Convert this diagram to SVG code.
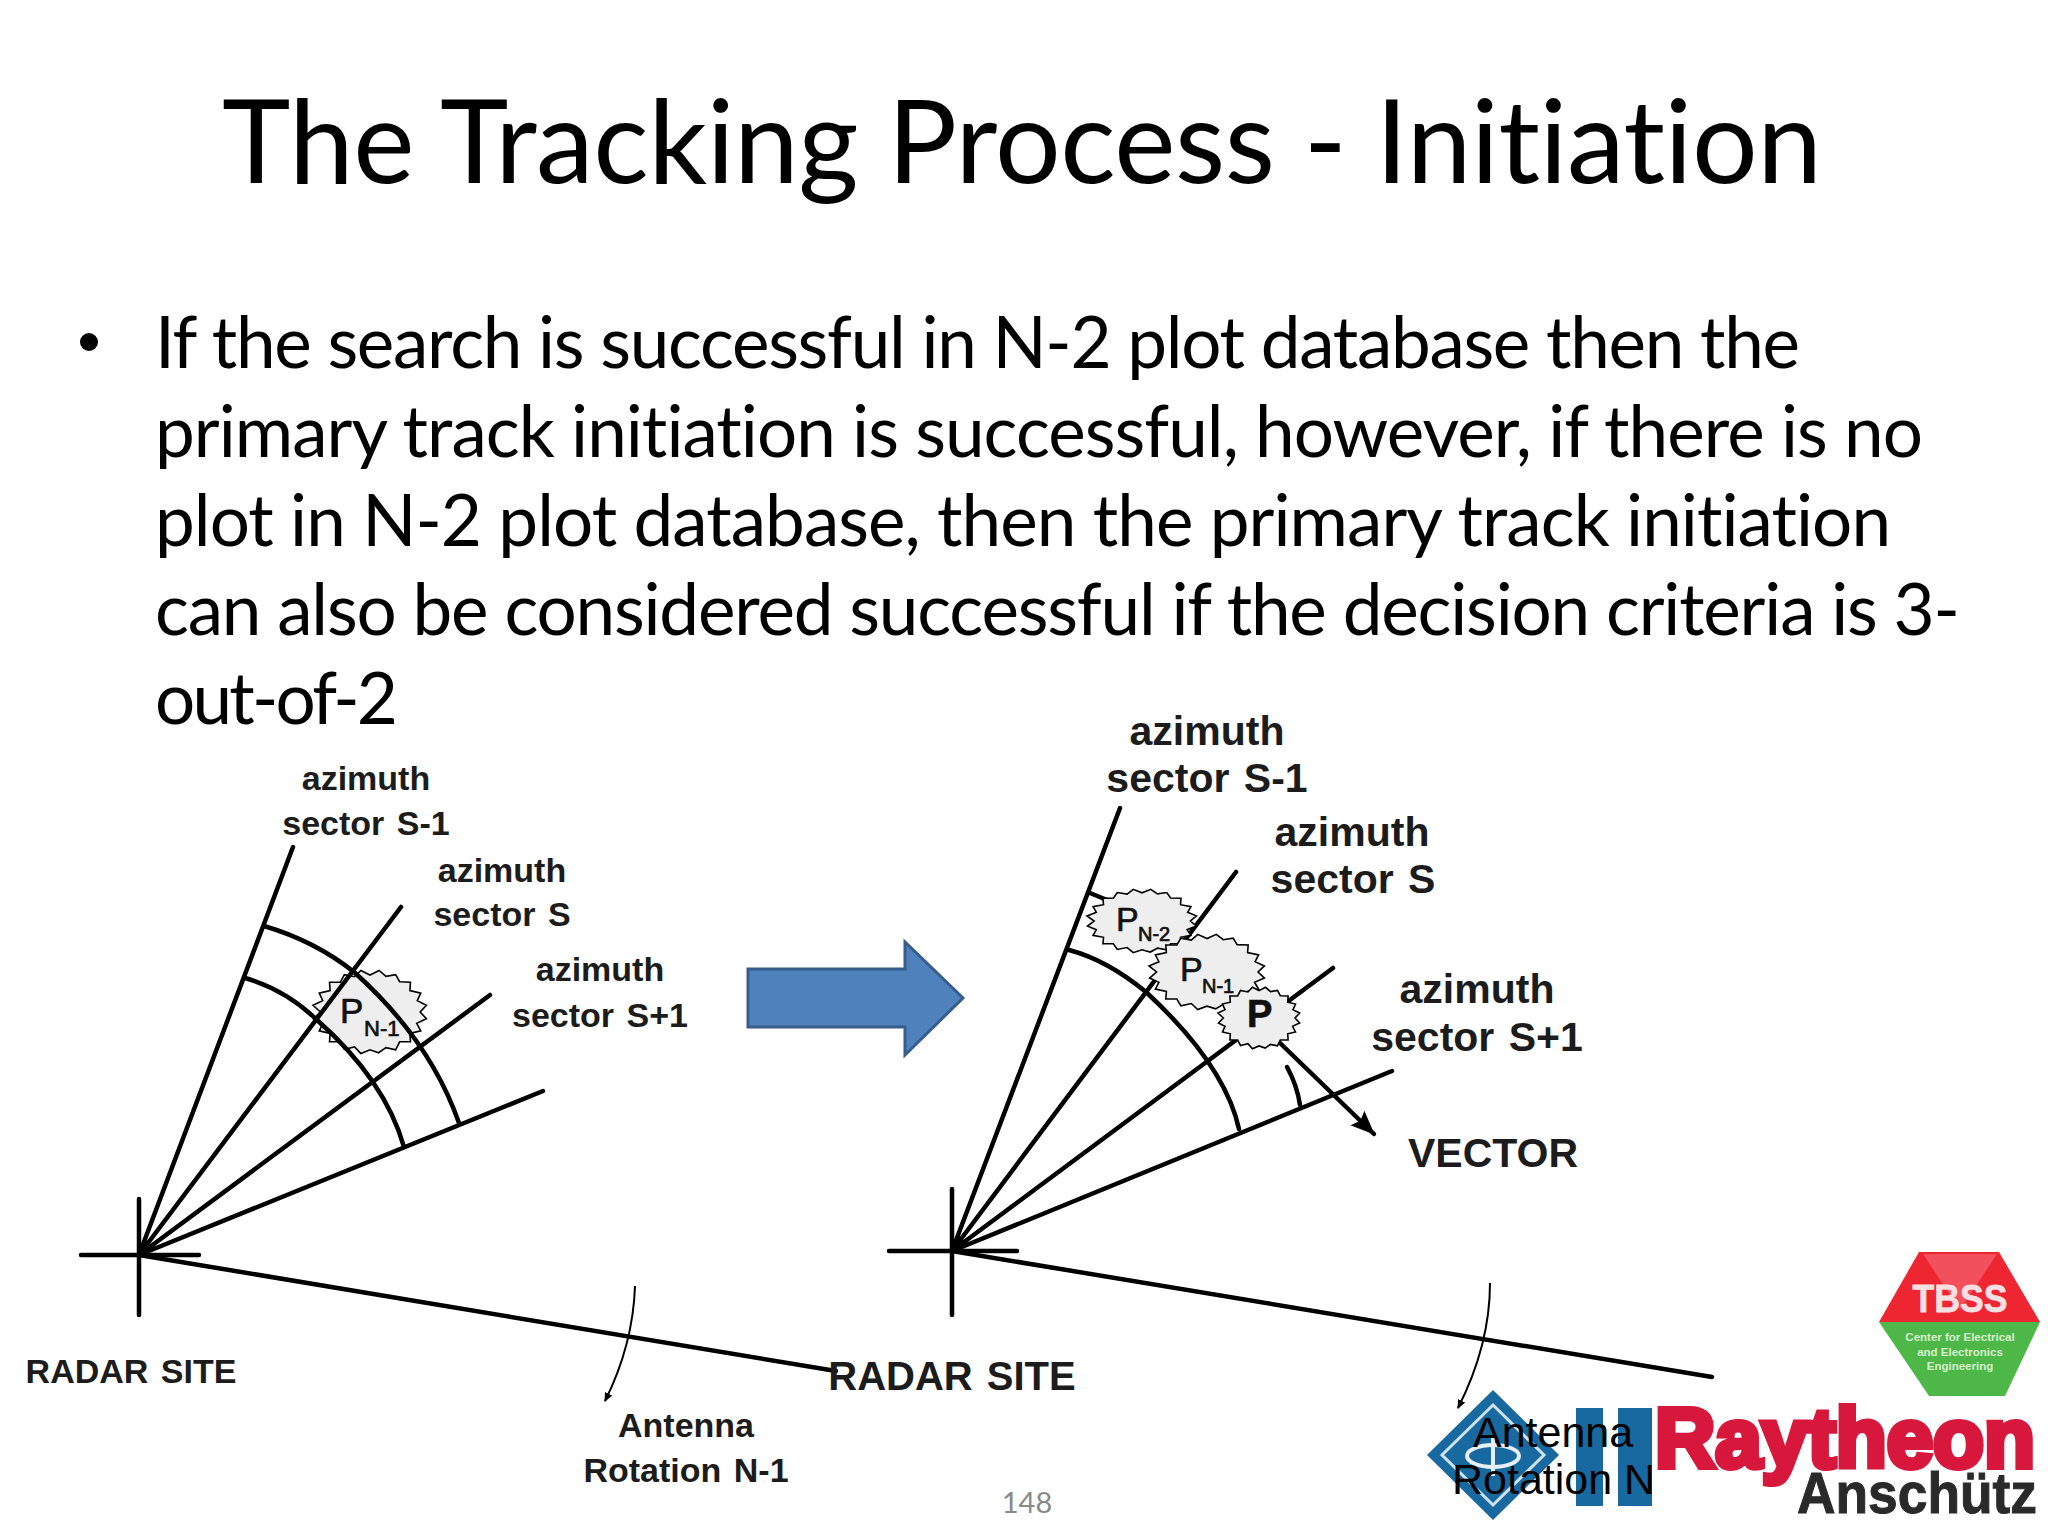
<svg xmlns="http://www.w3.org/2000/svg" xmlns:xlink="http://www.w3.org/1999/xlink" width="2048" height="1536" viewBox="0 0 2048 1536">
<style>
.slide{font-family:"Lato","Open Sans",sans-serif;fill:#000;font-variant-ligatures:none}
.title{font-size:116px}
.body{font-size:71px}
.lab{font-family:"Liberation Sans",Arial,sans-serif;font-weight:700;fill:#1c1c1c;text-anchor:middle;word-spacing:3px}
.l1{font-size:34px}
.l2{font-size:41px}
.sym{font-family:"Liberation Sans",Arial,sans-serif;fill:#111;stroke:#111;stroke-width:.7}
.plain{font-family:"Liberation Sans",Arial,sans-serif;fill:#000}
.ln{fill:none;stroke:#000;stroke-width:4.5;stroke-linecap:round;stroke-linejoin:round}
.thin{fill:none;stroke:#000;stroke-width:2}
.blob{fill:#eeeeee;stroke:#000;stroke-width:1.6;vector-effect:non-scaling-stroke;stroke-linejoin:miter}
</style>
<defs>
<path id="burst" class="blob" d="M.88,0 .99,.16 .82,.27 .89,.45 .7,.51 .71,.71 .52,.71 .45,.9 .28,.85 .15,.97 0,.9 -.16,.99 -.27,.83 -.45,.89 -.52,.71 -.71,.71 -.7,.51 -.89,.45 -.83,.27 -.99,.16 -.87,0 -1,-.16 -.83,-.27 -.89,-.45 -.7,-.51 -.71,-.71 -.52,-.71 -.45,-.89 -.27,-.84 -.16,-.99 0,-.88 .16,-.99 .28,-.85 .45,-.89 .52,-.72 .71,-.71 .7,-.51 .89,-.45 .83,-.27 .99,-.16Z"/>
<marker id="tiny" markerWidth="10" markerHeight="10" refX="8" refY="4" orient="auto" markerUnits="userSpaceOnUse"><path d="M0,0 9,4 0,8Z" fill="#000"/></marker>
<marker id="big" markerWidth="26" markerHeight="22" refX="23" refY="10" orient="auto" markerUnits="userSpaceOnUse"><path d="M0,0 24,10 0,20 4,10Z" fill="#000"/></marker>
</defs>

<g id="title" class="slide">
<text class="title" x="222" y="183" textLength="1600" lengthAdjust="spacing">The Tracking Process - Initiation</text>
</g>
<g id="body" class="slide">
<circle cx="89" cy="342" r="9" fill="#000"/>
<text class="body" x="155" y="368" textLength="1645" lengthAdjust="spacing">If the search is successful in N-2 plot database then the</text>
<text class="body" x="155" y="457" textLength="1768" lengthAdjust="spacing">primary track initiation is successful, however, if there is no</text>
<text class="body" x="155" y="546" textLength="1736" lengthAdjust="spacing">plot in N-2 plot database, then the primary track initiation</text>
<text class="body" x="155" y="635" textLength="1805" lengthAdjust="spacing">can also be considered successful if the decision criteria is 3-</text>
<text class="body" x="155" y="724" textLength="243" lengthAdjust="spacing">out-of-2</text>
</g>

<g id="left-diagram">
<g id="left-plot">
<use xlink:href="#burst" href="#burst" transform="translate(370 1012) scale(57 42)"/>
<text class="sym" x="340" y="1023" font-size="35">P</text>
<text class="sym" x="364" y="1036" font-size="22">N-1</text>
</g>
<g id="left-connectors">
<path class="ln" d="M81,1255H199M139,1199V1315"/>
<path class="ln" d="M139,1255 293,847M139,1255 401,907M139,1255 490,995M139,1255 543,1091M139,1255 836,1371"/>
<path class="ln" d="M264,926Q315,941 354,972Q430,1040 459,1123"/>
<path class="ln" d="M245,978Q286,990 317,1020Q385,1080 404,1147"/>
<path class="thin" marker-end="url(#tiny)" d="M635,1286Q633,1345 605,1401"/>
</g>
<g id="left-labels">
<text class="lab l1" x="366" y="790">azimuth</text><text class="lab l1" x="366" y="835">sector S-1</text>
<text class="lab l1" x="502" y="882">azimuth</text><text class="lab l1" x="502" y="926">sector S</text>
<text class="lab l1" x="600" y="981">azimuth</text><text class="lab l1" x="600" y="1027">sector S+1</text>
<text class="lab l1" x="131" y="1383">RADAR SITE</text>
<text class="lab l1" x="686" y="1437">Antenna</text><text class="lab l1" x="686" y="1482">Rotation N-1</text>
</g>
</g>

<g id="block-arrow">
<path d="M748,969H905V942L963,998 905,1055V1027H748Z" fill="#4f81bd" stroke="#385d8a" stroke-width="3"/>
</g>

<g id="right-diagram">
<g id="right-connectors">
<path class="ln" d="M889,1251H1017M952,1189V1315"/>
<path class="ln" d="M952,1251 1120,808M952,1251 1236,872M952,1251 1333,968M952,1251 1392,1071M952,1251 1712,1377"/>
<path class="ln" d="M1069,950Q1107,960 1146,992Q1225,1065 1239,1129"/>
<path class="ln" d="M1287,1067Q1297,1085 1300,1105"/>
<path class="ln" marker-end="url(#big)" d="M1280,1043 1374,1134"/>
<path class="thin" marker-end="url(#tiny)" d="M1490,1283Q1490,1345 1458,1408"/>
</g>
<g id="plot-n2">
<path d="M1090,893 1107,900" class="ln"/>
<use xlink:href="#burst" href="#burst" transform="translate(1142 921) scale(55 32)"/>
<text class="sym" x="1116" y="931" font-size="34">P</text>
<text class="sym" x="1138" y="941" font-size="20">N-2</text>
</g>
<g id="plot-n1">
<use xlink:href="#burst" href="#burst" transform="translate(1207 972) scale(58 38)"/>
<text class="sym" x="1180" y="981" font-size="34">P</text>
<text class="sym" x="1202" y="993" font-size="20">N-1</text>
</g>
<g id="plot-p">
<use xlink:href="#burst" href="#burst" transform="translate(1259 1018) scale(41 31)"/>
<text class="sym" x="1247" y="1027" font-size="38" font-weight="700">P</text>
</g>
<g id="right-labels">
<text class="lab l2" x="1207" y="745">azimuth</text><text class="lab l2" x="1207" y="792">sector S-1</text>
<text class="lab l2" x="1352" y="846">azimuth</text><text class="lab l2" x="1353" y="893">sector S</text>
<text class="lab l2" x="1477" y="1003">azimuth</text><text class="lab l2" x="1477" y="1051">sector S+1</text>
<text class="lab l2" x="1493" y="1167">VECTOR</text>
<text class="lab" x="952" y="1390" font-size="40">RADAR SITE</text>
</g>
</g>

<g id="logo-itt">
<path d="M1493,1390 1559,1455 1493,1520 1427,1455Z" fill="#17699f"/>
<path d="M1493,1405 1544,1455 1493,1505 1442,1455Z" fill="none" stroke="#cfe3ef" stroke-width="3"/>
<ellipse cx="1493" cy="1456" rx="26" ry="11" fill="none" stroke="#e6f0f6" stroke-width="4"/>
<path d="M1493,1438V1476" stroke="#e6f0f6" stroke-width="4"/>
<rect x="1576" y="1408" width="27" height="98" fill="#17699f"/>
<rect x="1618" y="1408" width="34" height="98" fill="#17699f"/>
</g>
<g id="antenna-text">
<text class="plain" x="1473" y="1447" font-size="43">Antenna</text>
<text class="plain" x="1452" y="1494" font-size="43">Rotation N</text>
</g>
<g id="logo-raytheon">
<text x="1655" y="1467" font-family="Liberation Sans,Arial,sans-serif" font-weight="700" font-size="84" fill="#d8173c" stroke="#d8173c" stroke-width="6" textLength="380" lengthAdjust="spacingAndGlyphs">Raytheon</text>
<text x="1797" y="1513" font-family="Liberation Sans,Arial,sans-serif" font-weight="700" font-size="57" fill="#2a2a2a" stroke="#2a2a2a" stroke-width="1" textLength="240" lengthAdjust="spacingAndGlyphs">Anschütz</text>
</g>
<g id="logo-tbss">
<path d="M1879,1322 1919,1252H1999L2040,1322Z" fill="#ee2631"/>
<path d="M1923,1254H1997L1960,1310Z" fill="#f2505c"/>
<path d="M1879,1322H2040L2005,1396H1929Z" fill="#4db848"/>
<text x="1960" y="1312" text-anchor="middle" font-family="Liberation Sans,Arial,sans-serif" font-weight="700" font-size="38" fill="#f8dfe2" stroke="#f8dfe2" stroke-width=".8" textLength="95" lengthAdjust="spacingAndGlyphs">TBSS</text>
<g font-family="Liberation Sans,Arial,sans-serif" font-weight="700" font-size="11.5" fill="#d9f0cc" text-anchor="middle">
<text x="1960" y="1341">Center for Electrical</text>
<text x="1960" y="1356">and Electronics</text>
<text x="1960" y="1370">Engineering</text>
</g>
</g>
<g id="page-number">
<text x="1027" y="1513" text-anchor="middle" font-family="Lato,sans-serif" font-size="29" fill="#898989">148</text>
</g>
</svg>
